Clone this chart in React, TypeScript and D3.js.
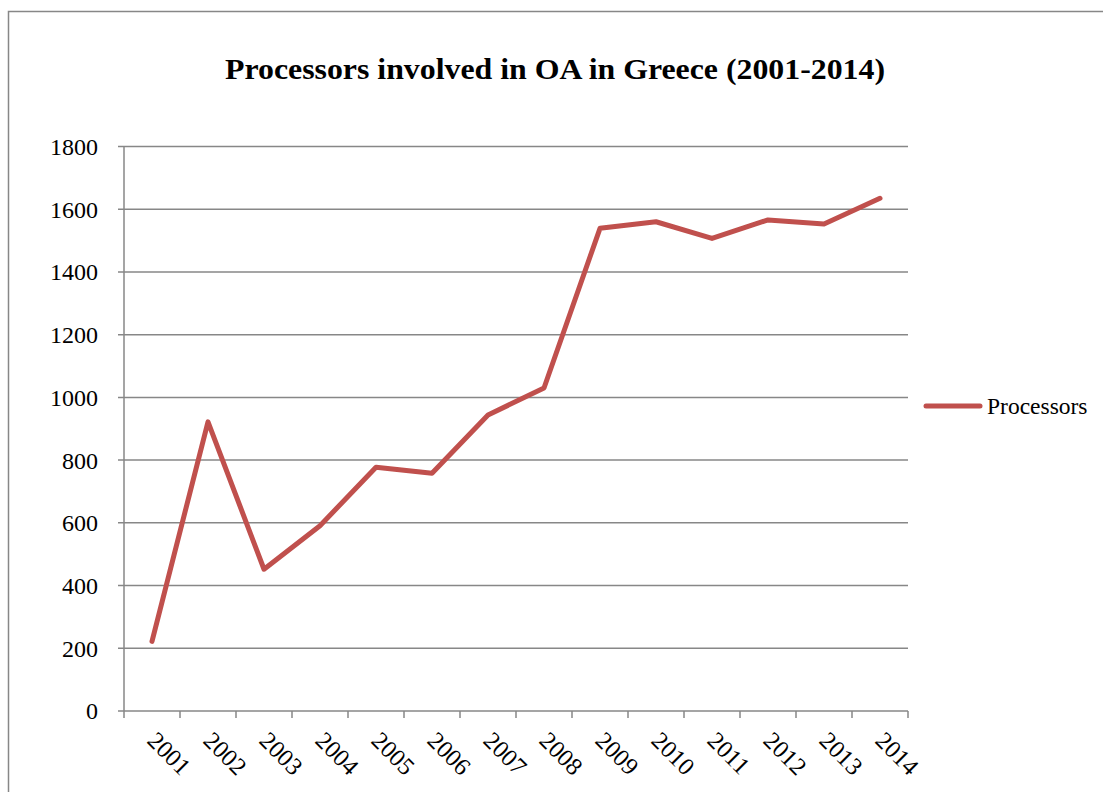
import React from "react";
import * as d3 from "d3";

const years = ["2001","2002","2003","2004","2005","2006","2007","2008","2009","2010","2011","2012","2013","2014"];
const processors = [222, 922, 452, 591, 777, 758, 944, 1030, 1539, 1560, 1507, 1566, 1553, 1635];
const yTicks = [0, 200, 400, 600, 800, 1000, 1200, 1400, 1600, 1800];
const seriesName = "Processors";
const title = "Processors involved in OA in Greece (2001-2014)";

const W = 1103;
const H = 792;
const plot = { left: 124, right: 908, top: 146.5, bottom: 711 };
const gridColor = "#878787";
const lineColor = "#C0504D";
const font = '"Liberation Serif", "Times New Roman", Times, serif';

export default function App() {
  const x = d3.scaleBand<string>().domain(years).range([plot.left, plot.right]).padding(0);
  const y = d3.scaleLinear().domain([0, 1800]).range([plot.bottom, plot.top]);
  const line = d3
    .line<number>()
    .x((_, i) => (x(years[i]) as number) + x.bandwidth() / 2)
    .y((d) => y(d));

  const boundaries = d3.range(years.length + 1).map((i) => plot.left + i * x.step());

  return (
    <svg
      width={W}
      height={H}
      style={{ position: "absolute", left: 0, top: 0, background: "#fff", fontFamily: font }}
    >
      {/* outer chart frame */}
      <path d={`M8.5,${H} V11.5 H${W}`} fill="none" stroke={gridColor} strokeWidth={1.5} />

      <text
        x={555}
        y={79}
        textAnchor="middle"
        fontSize={29}
        fontWeight="bold"
        textLength={660}
        lengthAdjust="spacingAndGlyphs"
      >
        {title}
      </text>

      {/* horizontal gridlines and y tick marks */}
      {yTicks.map((t) => (
        <g key={t}>
          <line x1={118} x2={plot.right} y1={y(t)} y2={y(t)} stroke={gridColor} strokeWidth={1.5} />
          <text x={98} y={y(t)} dy="0.35em" textAnchor="end" fontSize={24}>
            {t}
          </text>
        </g>
      ))}

      {/* y axis */}
      <line x1={plot.left} x2={plot.left} y1={plot.top} y2={plot.bottom} stroke={gridColor} strokeWidth={1.5} />

      {/* x tick marks between categories */}
      {boundaries.map((bx, i) => (
        <line key={i} x1={bx} x2={bx} y1={plot.bottom} y2={plot.bottom + 7} stroke={gridColor} strokeWidth={1.5} />
      ))}

      {/* rotated category labels */}
      {years.map((yr) => {
        const cx = (x(yr) as number) + x.bandwidth() / 2;
        return (
          <text key={yr} transform={`translate(${cx - 6},${742}) rotate(45)`} fontSize={24.5}>
            {yr}
          </text>
        );
      })}

      <path
        d={line(processors) || ""}
        fill="none"
        stroke={lineColor}
        strokeWidth={5}
        strokeLinejoin="round"
        strokeLinecap="round"
      />

      {/* legend */}
      <line x1={926} x2={980} y1={406} y2={406} stroke={lineColor} strokeWidth={5} strokeLinecap="round" />
      <text x={987} y={414} fontSize={23.5}>
        {seriesName}
      </text>
    </svg>
  );
}
